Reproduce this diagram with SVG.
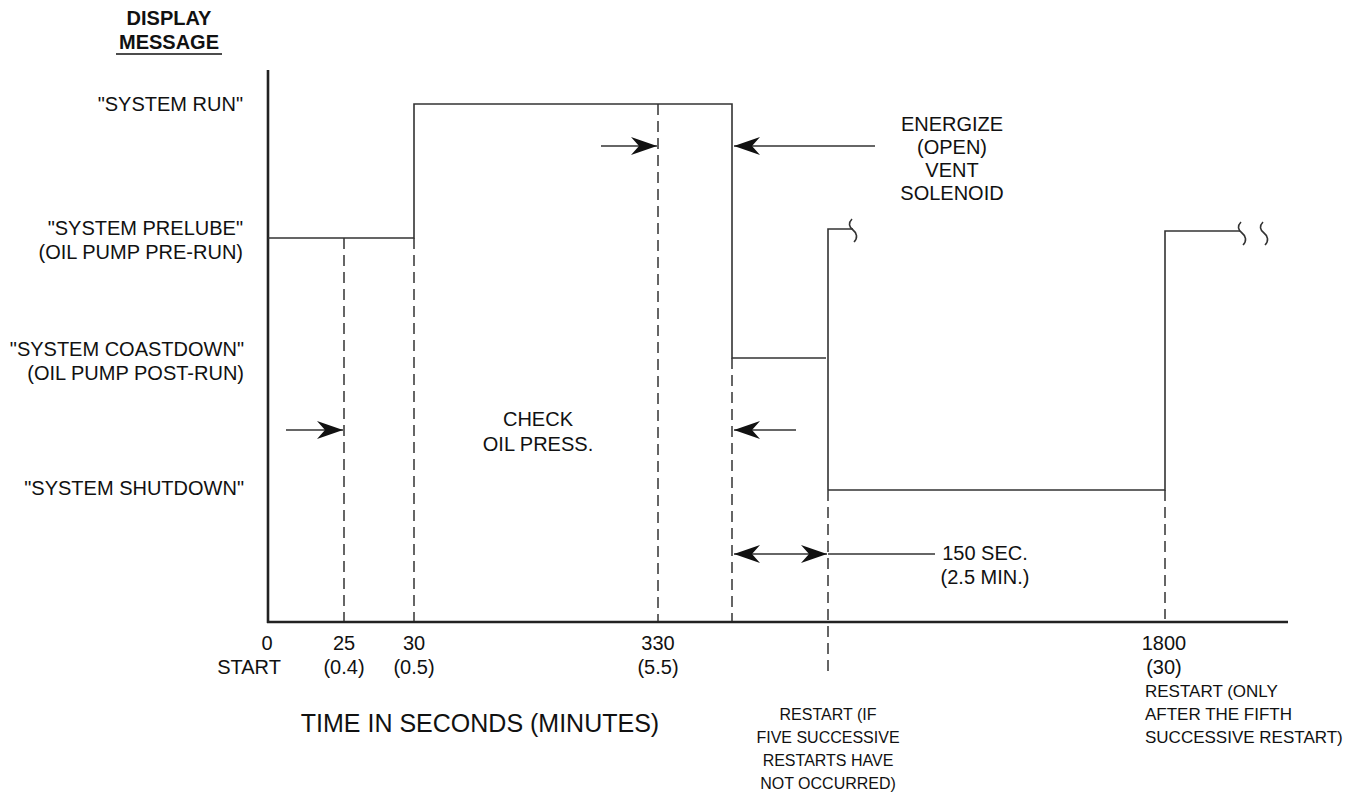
<svg xmlns="http://www.w3.org/2000/svg" width="1362" height="796" viewBox="0 0 1362 796">
<style>
text{font-family:"Liberation Sans",Arial,sans-serif;fill:#111;}
.lbl{font-size:20px;}
.sm{font-size:16px;}
.sm2{font-size:17px;}
.axis{stroke:#222;stroke-width:2.6;fill:none;}
.step{stroke:#333;stroke-width:1.6;fill:none;}
.dash{stroke:#333;stroke-width:1.5;stroke-dasharray:11 6;fill:none;}
.arr{stroke:#333;stroke-width:1.5;fill:none;}
</style>
<defs>
<marker id="ah" viewBox="-28 -11 30 22" refX="0" refY="0" markerWidth="30" markerHeight="22" orient="auto-start-reverse" markerUnits="userSpaceOnUse">
<path d="M0,0 L-26,-9 L-18,0 L-26,9 Z" fill="#111"/>
</marker>
</defs>
<rect width="1362" height="796" fill="#fff"/>
<g id="header">
<text x="169" y="25" text-anchor="middle" style="font-size:20px;font-weight:bold">DISPLAY</text>
<text x="169" y="49" text-anchor="middle" style="font-size:20px;font-weight:bold">MESSAGE</text>
<line x1="116" y1="54" x2="222" y2="54" stroke="#111" stroke-width="1.6"/>
</g>
<g id="state-labels">
<text x="243" y="111" text-anchor="end" class="lbl">"SYSTEM RUN"</text>
<text x="243" y="235" text-anchor="end" class="lbl">"SYSTEM PRELUBE"</text>
<text x="243" y="259" text-anchor="end" class="lbl">(OIL PUMP PRE-RUN)</text>
<text x="244" y="356" text-anchor="end" class="lbl">"SYSTEM COASTDOWN"</text>
<text x="244" y="380" text-anchor="end" class="lbl">(OIL PUMP POST-RUN)</text>
<text x="244" y="495" text-anchor="end" class="lbl">"SYSTEM SHUTDOWN"</text>
</g>
<g id="axes">
<line class="axis" x1="268" y1="70" x2="268" y2="623"/>
<line class="axis" x1="267" y1="622" x2="1288" y2="622"/>
</g>
<g id="timeline">
<path class="step" d="M268,238 H414 V104 H732 V358 H826"/>
<path class="step" d="M828,490 V229 H853"/>
<path class="step" d="M852,219 C848,223 849,227 853,230 C857,233 858,238 854,242"/>
<path class="step" d="M828,490 H1165 V231 H1240"/>
<path class="step" d="M1241,222 C1237,226 1238,230 1242,233 C1246,236 1247,241 1243,245"/>
<path class="step" d="M1263,222 C1259,226 1260,230 1264,233 C1268,236 1269,241 1265,245"/>
</g>
<g id="dashed">
<line class="dash" x1="344" y1="238" x2="344" y2="621"/>
<line class="dash" x1="414" y1="238" x2="414" y2="621"/>
<line class="dash" x1="658" y1="104" x2="658" y2="621"/>
<line class="dash" x1="732" y1="358" x2="732" y2="621"/>
<line class="dash" x1="828" y1="490" x2="828" y2="676"/>
<line class="dash" x1="1165" y1="490" x2="1165" y2="619"/>
</g>
<g id="connectors">
<line class="arr" x1="601" y1="146" x2="657" y2="146" marker-end="url(#ah)"/>
<line class="arr" x1="875" y1="146" x2="734" y2="146" marker-end="url(#ah)"/>
<line class="arr" x1="286" y1="430" x2="343" y2="430" marker-end="url(#ah)"/>
<line class="arr" x1="796" y1="430" x2="734" y2="430" marker-end="url(#ah)"/>
<line class="arr" x1="734" y1="554" x2="827" y2="554" marker-start="url(#ah)" marker-end="url(#ah)"/>
<line class="arr" x1="828" y1="554" x2="935" y2="554"/>
</g>
<g id="annotations">
<text x="952" y="131" text-anchor="middle" class="lbl">ENERGIZE</text>
<text x="952" y="154" text-anchor="middle" class="lbl">(OPEN)</text>
<text x="952" y="177" text-anchor="middle" class="lbl">VENT</text>
<text x="952" y="200" text-anchor="middle" class="lbl">SOLENOID</text>
<text x="538" y="426" text-anchor="middle" class="lbl">CHECK</text>
<text x="538" y="451" text-anchor="middle" class="lbl">OIL PRESS.</text>
<text x="985" y="560" text-anchor="middle" class="lbl">150 SEC.</text>
<text x="985" y="584" text-anchor="middle" class="lbl">(2.5 MIN.)</text>
</g>
<g id="ticks">
<text x="267" y="650" text-anchor="middle" class="lbl">0</text>
<text x="249" y="674" text-anchor="middle" class="lbl">START</text>
<text x="344" y="650" text-anchor="middle" class="lbl">25</text>
<text x="344" y="674" text-anchor="middle" class="lbl">(0.4)</text>
<text x="414" y="650" text-anchor="middle" class="lbl">30</text>
<text x="414" y="674" text-anchor="middle" class="lbl">(0.5)</text>
<text x="658" y="650" text-anchor="middle" class="lbl">330</text>
<text x="658" y="674" text-anchor="middle" class="lbl">(5.5)</text>
<text x="1164" y="650" text-anchor="middle" class="lbl">1800</text>
<text x="1164" y="674" text-anchor="middle" class="lbl">(30)</text>
<text x="480" y="732" text-anchor="middle" style="font-size:25px">TIME IN SECONDS (MINUTES)</text>
</g>
<g id="restart-notes">
<text x="828" y="720" text-anchor="middle" class="sm">RESTART (IF</text>
<text x="828" y="743" text-anchor="middle" class="sm">FIVE SUCCESSIVE</text>
<text x="828" y="766" text-anchor="middle" class="sm">RESTARTS HAVE</text>
<text x="828" y="789" text-anchor="middle" class="sm">NOT OCCURRED)</text>
<text x="1145" y="697" class="sm2">RESTART (ONLY</text>
<text x="1145" y="720" class="sm2">AFTER THE FIFTH</text>
<text x="1145" y="743" class="sm2">SUCCESSIVE RESTART)</text>
</g>
</svg>
